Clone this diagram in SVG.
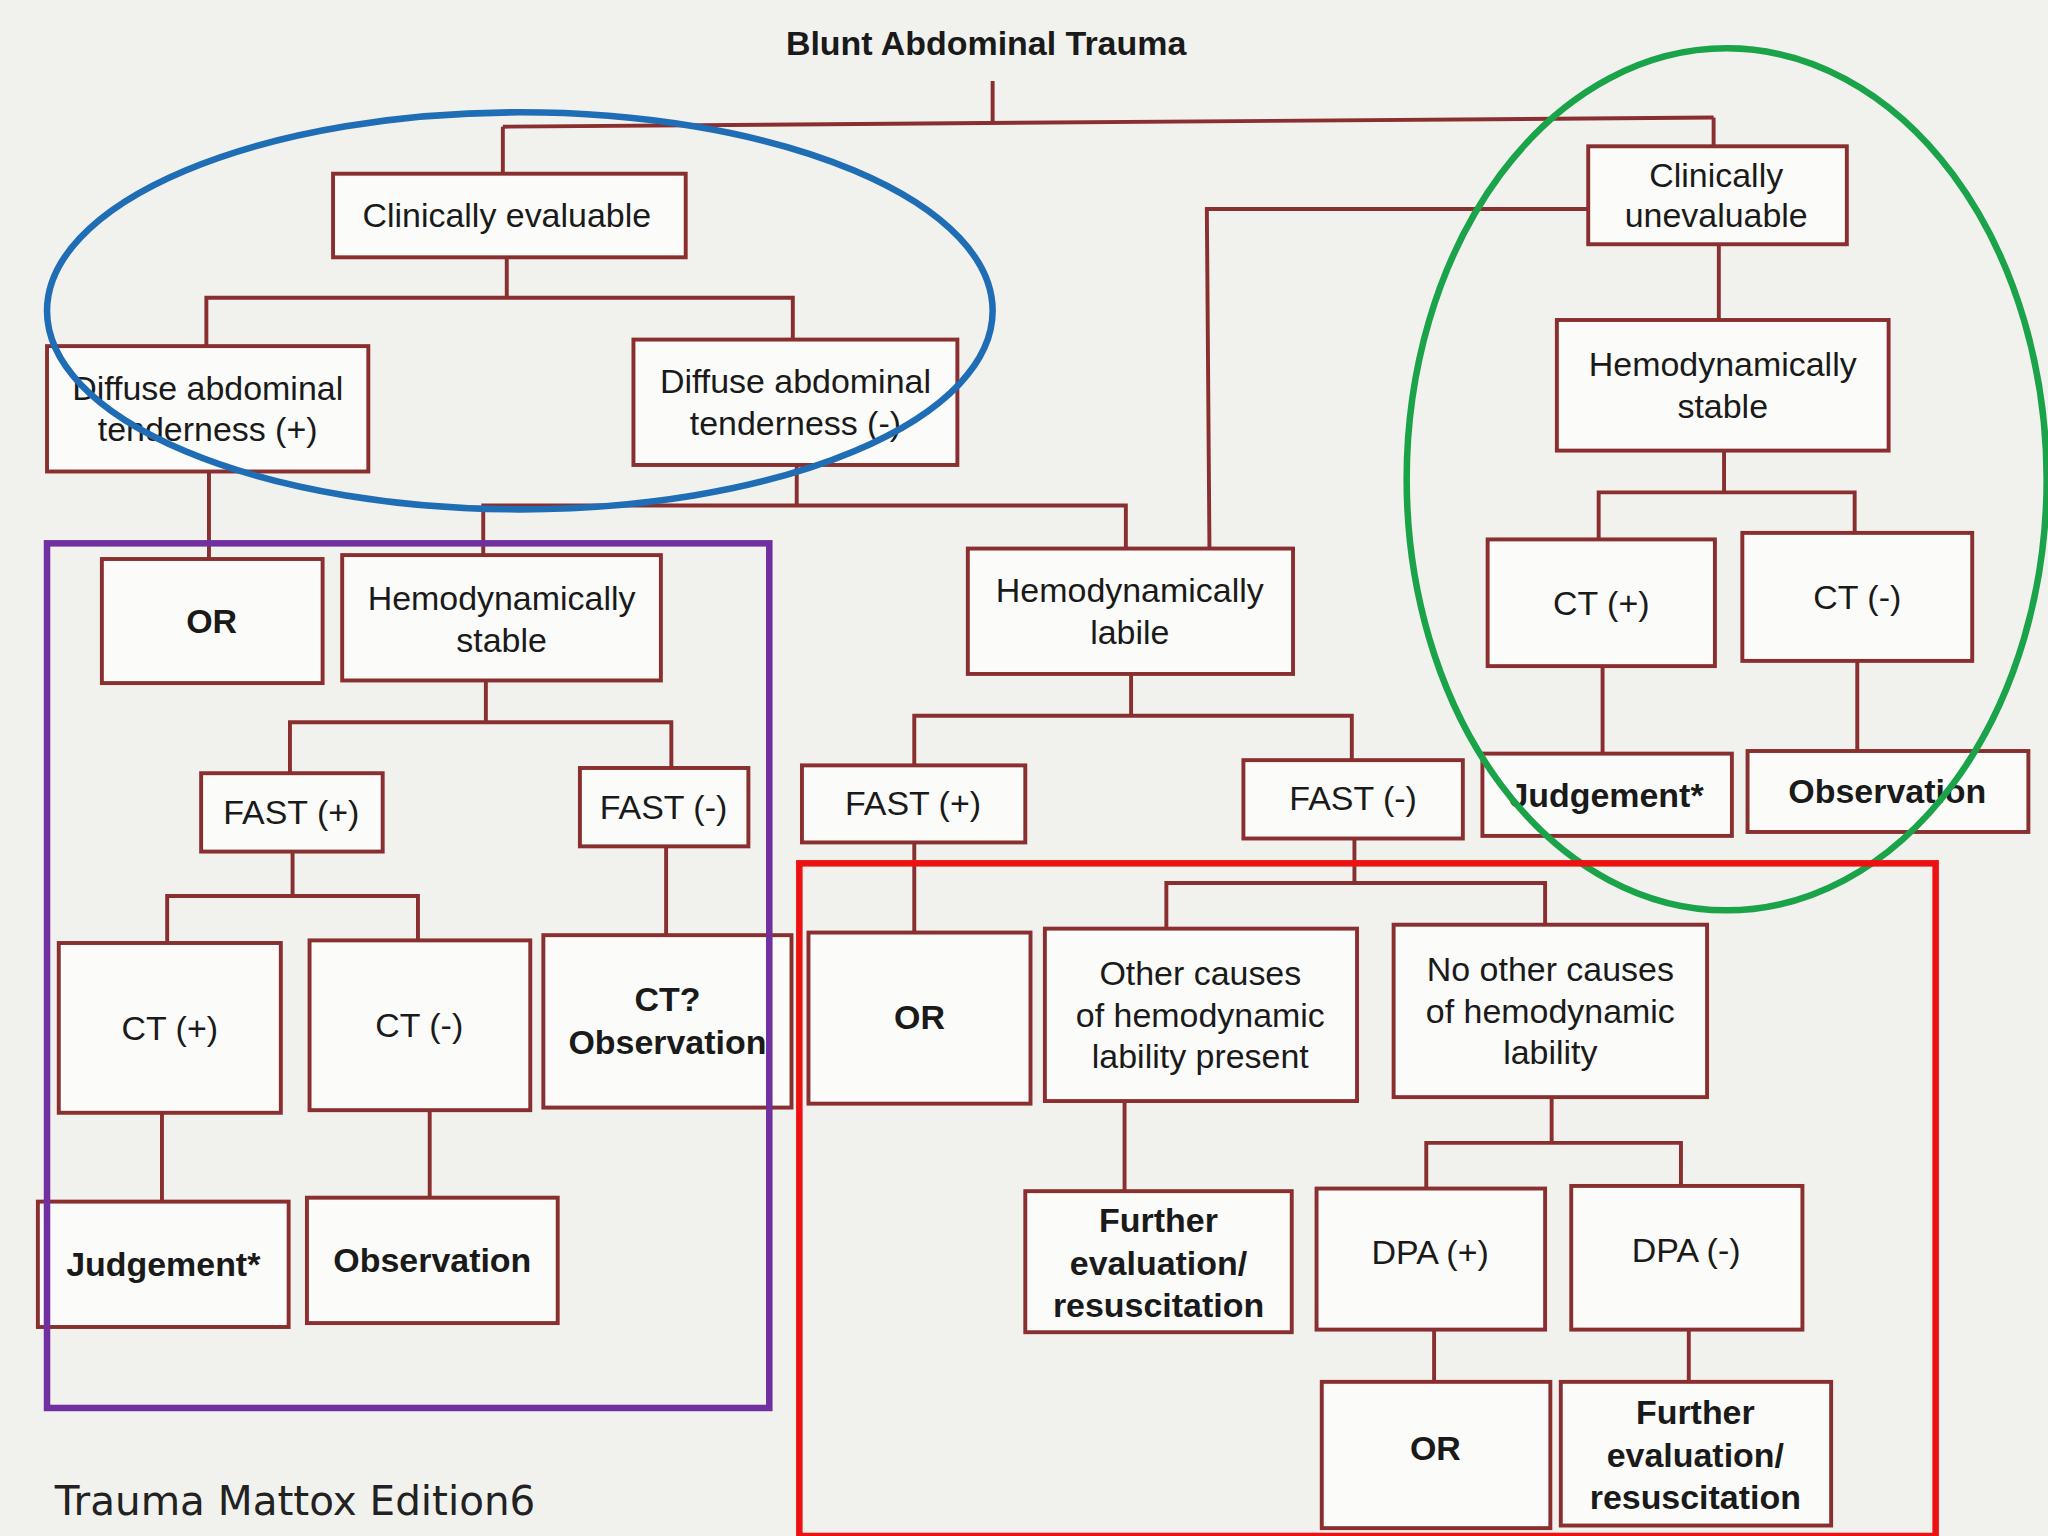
<svg xmlns="http://www.w3.org/2000/svg" width="2048" height="1536" viewBox="0 0 2048 1536">
<style>
.b{fill:#fbfbf9;stroke:#8a2f2f;stroke-width:3}
.t{font-family:"Liberation Sans",Arial,sans-serif;font-size:26px;fill:#1a1a1a;text-anchor:middle}
.bd{font-weight:bold}
.c line,.c polyline{stroke:#8a2f2f;stroke-width:3;fill:none}
</style>
<rect width="2048" height="1536" fill="#f1f1ee"/>
<g transform="scale(1.3061)">
<g class="c" id="connectors">
<line x1="760" y1="62" x2="760" y2="95"/>
<line x1="385" y1="97" x2="1312" y2="90"/>
<line x1="385" y1="97" x2="385" y2="133"/>
<line x1="1312" y1="90" x2="1312" y2="112"/>
<polyline points="1216,160 924,160 926,420"/>
<polyline points="388,197 388,228"/>
<polyline points="158,265 158,228 607,228 607,260"/>
<line x1="160" y1="361" x2="160" y2="428"/>
<polyline points="610,356 610,387"/>
<polyline points="370,425 370,387 862,387 862,420"/>
<line x1="372" y1="521" x2="372" y2="553"/>
<polyline points="222,592 222,553 514,553 514,588"/>
<line x1="224" y1="652" x2="224" y2="686"/>
<polyline points="128,722 128,686 320,686 320,720"/>
<line x1="510" y1="648" x2="510" y2="716"/>
<line x1="124" y1="852" x2="124" y2="920"/>
<line x1="329" y1="850" x2="329" y2="917"/>
<line x1="866" y1="516" x2="866" y2="548"/>
<polyline points="700,586 700,548 1035,548 1035,582"/>
<line x1="700" y1="645" x2="700" y2="714"/>
<line x1="1037" y1="642" x2="1037" y2="676"/>
<polyline points="893,711 893,676 1183,676 1183,708"/>
<line x1="861" y1="843" x2="861" y2="912"/>
<line x1="1188" y1="840" x2="1188" y2="875"/>
<polyline points="1092,910 1092,875 1287,875 1287,908"/>
<line x1="1098" y1="1018" x2="1098" y2="1058"/>
<line x1="1293" y1="1018" x2="1293" y2="1058"/>
<line x1="1316" y1="187" x2="1316" y2="245"/>
<line x1="1320" y1="345" x2="1320" y2="377"/>
<polyline points="1224,413 1224,377 1420,377 1420,408"/>
<line x1="1227" y1="510" x2="1227" y2="577"/>
<line x1="1422" y1="506" x2="1422" y2="575"/>
</g>
<g id="title"><text class="t bd" x="755" y="42">Blunt Abdominal Trauma</text></g>
<g id="ce"><rect class="b" x="255" y="133" width="270" height="64"/><text class="t" x="388" y="174">Clinically evaluable</text></g>
<g id="cu"><rect class="b" x="1216" y="112" width="198" height="75"/><text class="t" x="1314" y="143">Clinically</text><text class="t" x="1314" y="174">unevaluable</text></g>
<g id="dp"><rect class="b" x="36" y="265" width="246" height="96"/><text class="t" x="159" y="306">Diffuse abdominal</text><text class="t" x="159" y="338">tenderness (+)</text></g>
<g id="dm"><rect class="b" x="485" y="260" width="248" height="96"/><text class="t" x="609" y="301">Diffuse abdominal</text><text class="t" x="609" y="333">tenderness (-)</text></g>
<g id="or1"><rect class="b" x="78" y="428" width="169" height="95"/><text class="t bd" x="162" y="485">OR</text></g>
<g id="hs1"><rect class="b" x="262" y="425" width="244" height="96"/><text class="t" x="384" y="467">Hemodynamically</text><text class="t" x="384" y="499">stable</text></g>
<g id="hl"><rect class="b" x="741" y="420" width="249" height="96"/><text class="t" x="865" y="461">Hemodynamically</text><text class="t" x="865" y="493">labile</text></g>
<g id="fp1"><rect class="b" x="154" y="592" width="139" height="60"/><text class="t" x="223" y="631">FAST (+)</text></g>
<g id="fm1"><rect class="b" x="444" y="588" width="129" height="60"/><text class="t" x="508" y="627">FAST (-)</text></g>
<g id="ctp1"><rect class="b" x="45" y="722" width="170" height="130"/><text class="t" x="130" y="796">CT (+)</text></g>
<g id="ctm1"><rect class="b" x="237" y="720" width="169" height="130"/><text class="t" x="321" y="794">CT (-)</text></g>
<g id="cto"><rect class="b" x="416" y="716" width="190" height="132"/><text class="t bd" x="511" y="774">CT?</text><text class="t bd" x="511" y="807">Observation</text></g>
<g id="j1"><rect class="b" x="29" y="920" width="192" height="96"/><text class="t bd" x="125" y="977">Judgement*</text></g>
<g id="o1"><rect class="b" x="235" y="917" width="192" height="96"/><text class="t bd" x="331" y="974">Observation</text></g>
<g id="fp2"><rect class="b" x="614" y="586" width="171" height="59"/><text class="t" x="699" y="624">FAST (+)</text></g>
<g id="fm2"><rect class="b" x="952" y="582" width="168" height="60"/><text class="t" x="1036" y="620">FAST (-)</text></g>
<g id="or2"><rect class="b" x="619" y="714" width="170" height="131"/><text class="t bd" x="704" y="788">OR</text></g>
<g id="oc"><rect class="b" x="800" y="711" width="239" height="132"/><text class="t" x="919" y="754">Other causes</text><text class="t" x="919" y="786">of hemodynamic</text><text class="t" x="919" y="818">lability present</text></g>
<g id="noc"><rect class="b" x="1067" y="708" width="240" height="132"/><text class="t" x="1187" y="751">No other causes</text><text class="t" x="1187" y="783">of hemodynamic</text><text class="t" x="1187" y="815">lability</text></g>
<g id="fe1"><rect class="b" x="785" y="912" width="204" height="108"/><text class="t bd" x="887" y="943">Further</text><text class="t bd" x="887" y="976">evaluation/</text><text class="t bd" x="887" y="1008">resuscitation</text></g>
<g id="dpp"><rect class="b" x="1008" y="910" width="175" height="108"/><text class="t" x="1095" y="968">DPA (+)</text></g>
<g id="dpm"><rect class="b" x="1203" y="908" width="177" height="110"/><text class="t" x="1291" y="966">DPA (-)</text></g>
<g id="or3"><rect class="b" x="1012" y="1058" width="175" height="112"/><text class="t bd" x="1099" y="1118">OR</text></g>
<g id="fe2"><rect class="b" x="1195" y="1058" width="207" height="110"/><text class="t bd" x="1298" y="1090">Further</text><text class="t bd" x="1298" y="1123">evaluation/</text><text class="t bd" x="1298" y="1155">resuscitation</text></g>
<g id="hs2"><rect class="b" x="1192" y="245" width="254" height="100"/><text class="t" x="1319" y="288">Hemodynamically</text><text class="t" x="1319" y="320">stable</text></g>
<g id="ctp2"><rect class="b" x="1139" y="413" width="174" height="97"/><text class="t" x="1226" y="471">CT (+)</text></g>
<g id="ctm2"><rect class="b" x="1334" y="408" width="176" height="98"/><text class="t" x="1422" y="466">CT (-)</text></g>
<g id="j2"><rect class="b" x="1135" y="577" width="191" height="63"/><text class="t bd" x="1230" y="618">Judgement*</text></g>
<g id="o2"><rect class="b" x="1338" y="575" width="215" height="62"/><text class="t bd" x="1445" y="615">Observation</text></g>
<g id="overlays" fill="none" stroke-width="5">
<ellipse cx="398" cy="238" rx="362" ry="152" stroke="#1f6db5"/>
<ellipse cx="1322" cy="367" rx="245" ry="330" stroke="#1ba34a"/>
<rect x="36" y="416" width="553" height="662" stroke="#7030a0"/>
<rect x="612" y="661" width="870" height="515" stroke="#ee1111"/>
</g>
<text x="42" y="1160" style="font-family:'DejaVu Sans',Verdana,sans-serif;font-size:31px;fill:#222">Trauma Mattox Edition6</text>
</g>
</svg>
